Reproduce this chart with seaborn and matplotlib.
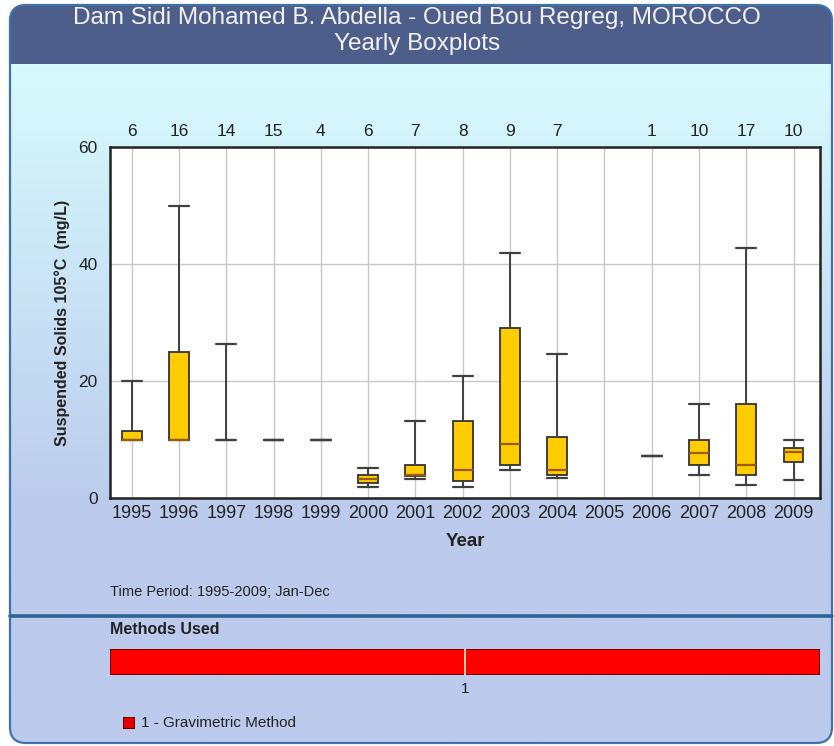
import numpy as np
import pandas as pd
import seaborn as sns
import matplotlib
matplotlib.use("Agg")
import matplotlib.pyplot as plt
from matplotlib.patches import FancyBboxPatch, Rectangle
from matplotlib.colors import LinearSegmentedColormap

# Datos (resumen de cinco números por año)
years = [str(y) for y in range(1995, 2010)]
counts = [6, 16, 14, 15, 4, 6, 7, 8, 9, 7, None, 1, 10, 17, 10]
mins = [10, 10, 10, 10, 10, 1.9, 3.2, 1.9, 4.8, 3.4, np.nan, 7.1, 3.9, 2.2, 3.1]
q1s = [10, 10, 10, 10, 10, 2.5, 3.7, 2.9, 5.6, 4.0, np.nan, 7.1, 5.6, 3.9, 6.2]
medians = [10, 10, 10, 10, 10, 3.2, 4.0, 4.8, 9.3, 4.8, np.nan, 7.1, 7.7, 5.6, 7.8]
q3s = [11.5, 25, 10, 10, 10, 3.9, 5.6, 13.2, 29.1, 10.5, np.nan, 7.1, 9.9, 16.1, 8.5]
maxs = [20, 50, 26.3, 10, 10, 5.1, 13.2, 20.9, 41.8, 24.6, np.nan, 7.1, 16.1, 42.7, 9.9]

title_lines = ["Dam Sidi Mohamed B. Abdella - Oued Bou Regreg, MOROCCO", "Yearly Boxplots"]
y_label = "Suspended Solids 105\u00b0C  (mg/L)"
period_text = "Time Period: 1995-2009; Jan-Dec"
method_names = ["1 - Gravimetric Method"]

W, H = 834, 746
DARK = "#222222"


def build_frame():
    # cinco valores por año -> los percentiles 0/25/50/75/100 salen exactos
    rows = []
    for i, year in enumerate(years):
        vals = [mins[i], q1s[i], medians[i], q3s[i], maxs[i]]
        if np.isnan(vals[0]):
            continue
        flat = q1s[i] == q3s[i]
        for v in vals:
            rows.append({"year": year, "value": v, "flat": flat})
    return pd.DataFrame(rows)


def fy(px):
    return 1 - px / H


def draw_background(fig):
    bg = fig.add_axes([0, 0, 1, 1], zorder=-10)
    bg.set_xlim(0, W)
    bg.set_ylim(H, 0)
    bg.axis("off")
    frame = FancyBboxPatch((10, 5), 822, 738, boxstyle="round,pad=0,rounding_size=16",
                           facecolor="none", edgecolor="#3F72A8", lw=1.6, zorder=5)
    bg.add_patch(frame)
    cmap = LinearSegmentedColormap.from_list("panel", ["#D7FBFD", "#C9E3F5", "#BCCAEC", "#BCCAEC"])
    grad = np.linspace(0, 1, 300).reshape(-1, 1)
    img = bg.imshow(grad, cmap=cmap, extent=(10, 832, 743, 64), aspect="auto", zorder=1)
    img.set_clip_path(frame)
    head = Rectangle((10, 5), 822, 59, facecolor="#4D5E8B", edgecolor="none", zorder=2)
    bg.add_patch(head)
    head.set_clip_path(frame)
    bg.plot([10, 832], [616, 616], color="#2D6496", lw=2.6, zorder=6)
    return bg


def draw_boxes(ax, data, median_color):
    sns.boxplot(data=data, x="year", y="value", order=years, ax=ax, whis=(0, 100),
                width=0.42, color="#FFCC00", linecolor="#333333", linewidth=1.3,
                capwidths=0.42, saturation=1,
                medianprops={"color": median_color, "linewidth": 1.6},
                whiskerprops={"color": "#404040", "linewidth": 1.4},
                capprops={"color": "#404040", "linewidth": 1.6})


def main():
    df = build_frame()
    sns.set_style("white")
    plt.rcParams["font.family"] = ["Liberation Sans", "DejaVu Sans"]

    fig = plt.figure(figsize=(W / 100, H / 100), dpi=100)
    draw_background(fig)

    fig.text(0.5, fy(18), title_lines[0], ha="center", va="center", color="#F2F2F2", fontsize=17.5)
    fig.text(0.5, fy(44), title_lines[1], ha="center", va="center", color="#F2F2F2", fontsize=17.5)

    ax = fig.add_axes([110 / W, fy(498), 710 / W, 351 / H])
    ax.set_facecolor("white")
    draw_boxes(ax, df[~df["flat"]], "#9C5A0A")
    draw_boxes(ax, df[df["flat"]], "#404040")
    ax.set_xlim(-0.46, 14.56)
    ax.set_ylim(0, 60)
    ax.set_yticks([0, 20, 40, 60])
    ax.grid(True, color="#C8C8C8", lw=1)
    ax.set_axisbelow(True)
    for s in ax.spines.values():
        s.set_color(DARK)
        s.set_linewidth(1.8)
    ax.tick_params(axis="y", length=7, width=1.2, color=DARK, labelsize=12.5, labelcolor=DARK, pad=2)
    ax.tick_params(axis="x", length=0, labelsize=13, labelcolor=DARK, pad=5)

    ax.set_xlabel("Year", fontsize=13.5, fontweight="bold", color=DARK)
    ax.xaxis.set_label_coords(0.5, (498 - 541) / 351)
    ax.xaxis.label.set_va("center")
    ax.set_ylabel(y_label, fontsize=11.5, fontweight="bold", color=DARK)
    ax.yaxis.set_label_coords((62 - 110) / 710, 0.5)
    ax.yaxis.label.set_va("center")

    # número de muestras arriba de cada año
    for i, n in enumerate(counts):
        if n is None:
            continue
        ax.text(i, 1.045, str(n), transform=ax.get_xaxis_transform(), ha="center", va="center",
                fontsize=12.5, color=DARK)

    fig.text(110 / W, fy(592), period_text, ha="left", va="center", fontsize=10.5, color=DARK)
    fig.text(110 / W, fy(629), "Methods Used", ha="left", va="center", fontsize=11.5,
             fontweight="bold", color=DARK)

    # barra de métodos usados
    mx = fig.add_axes([110 / W, fy(675), 710 / W, 26 / H])
    mx.barh([0], [len(years)], left=0, height=1, color="#FF0000", edgecolor="#5A0000", lw=1.2)
    mx.set_xlim(0, len(years))
    mx.set_ylim(-0.5, 0.5)
    mx.axvline(len(years) / 2, color="#FFF4D0", lw=1.2)
    mx.axis("off")
    fig.text(465 / W, fy(689), "1", ha="center", va="center", fontsize=11, color=DARK)

    lg = fig.add_axes([123 / W, fy(729), 12 / W, 12 / H])
    lg.bar([0], [1], width=1, color="#E00000", edgecolor="#5A0000", lw=1.2)
    lg.set_xlim(-0.5, 0.5)
    lg.set_ylim(0, 1)
    lg.axis("off")
    fig.text(141 / W, fy(723), method_names[0], ha="left", va="center", fontsize=11, color=DARK)

    fig.savefig("out.png", dpi=100)


if __name__ == "__main__":
    main()
